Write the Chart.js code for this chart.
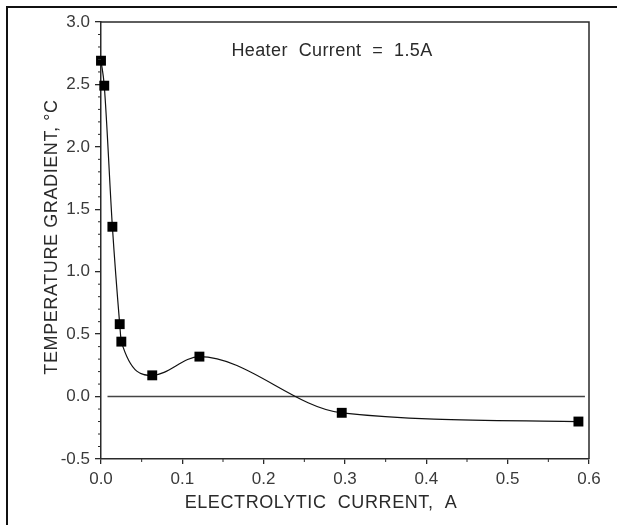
<!DOCTYPE html>
<html>
<head>
<meta charset="utf-8">
<script src="https://cdn.jsdelivr.net/npm/chart.js@4.4.1/dist/chart.umd.min.js"></script>
<style>
    html, body { margin: 0; padding: 0; background: #fff; }
    #wrap { position: relative; width: 617px; height: 525px; }
</style>
</head>
<body>
<div id="wrap"><canvas id="gradientChart" width="617" height="525"></canvas></div>
<script>
// Measured points: electrolytic current (A) vs temperature gradient (°C)
const current = [0.0, 0.004, 0.014, 0.023, 0.025, 0.063, 0.121, 0.296, 0.587];
const gradient = [2.69, 2.49, 1.36, 0.58, 0.44, 0.17, 0.32, -0.13, -0.20];

// Reference line at zero gradient
const zeroLineX = [0.008, 0.595];
const zeroLineY = [0, 0];

// Axis ticks
const xTicks = [0.0, 0.1, 0.2, 0.3, 0.4, 0.5, 0.6];
const yTicks = [-0.5, 0.0, 0.5, 1.0, 1.5, 2.0, 2.5, 3.0];

const ink = '#2a2a2a';
const fontFamily = "'Liberation Sans', Arial, sans-serif";

// Frame, plot box, minor ticks and the text labels
const decorations = {
    id: 'decorations',
    afterDraw(chart) {
        const ctx = chart.ctx;
        const area = chart.chartArea;
        const xs = chart.scales.x;
        const ys = chart.scales.y;

        ctx.save();
        // outer frame (left + top)
        ctx.strokeStyle = '#111';
        ctx.lineWidth = 2;
        ctx.beginPath();
        ctx.moveTo(7, 525);
        ctx.lineTo(7, 7);
        ctx.lineTo(617, 7);
        ctx.stroke();

        // top and right edges of the plot box
        ctx.strokeStyle = ink;
        ctx.lineWidth = 1.5;
        ctx.beginPath();
        ctx.moveTo(area.left, area.top);
        ctx.lineTo(area.right, area.top);
        ctx.lineTo(area.right, area.bottom);
        ctx.stroke();

        // minor ticks
        ctx.lineWidth = 1;
        ctx.beginPath();
        for (let i = 1; i < 12; i += 2) {
            const px = xs.getPixelForValue(i * 0.05);
            ctx.moveTo(px, area.bottom);
            ctx.lineTo(px, area.bottom + 3);
        }
        for (let i = -5; i <= 30; i++) {
            if (i % 5 === 0) continue;
            const py = ys.getPixelForValue(i / 10);
            ctx.moveTo(area.left, py);
            ctx.lineTo(area.left - 3, py);
        }
        ctx.stroke();

        ctx.fillStyle = ink;
        ctx.textAlign = 'center';
        ctx.textBaseline = 'middle';

        // annotation
        ctx.font = '18px ' + fontFamily;
        ctx.letterSpacing = '0.4px';
        ctx.fillText('Heater  Current  =  1.5A', 332, 51);

        // axis titles
        ctx.font = '18px ' + fontFamily;
        ctx.letterSpacing = '0.6px';
        ctx.fillText('ELECTROLYTIC  CURRENT,  A', 321, 503);

        ctx.translate(52, 237);
        ctx.rotate(-Math.PI / 2);
        ctx.fillText('TEMPERATURE GRADIENT, °C', 0, 0);
        ctx.restore();
    }
};

const ctx = document.getElementById('gradientChart').getContext('2d');
new Chart(ctx, {
    type: 'line',
    data: {
        datasets: [{
            data: current.map((x, i) => ({ x: x, y: gradient[i] })),
            borderColor: '#111',
            borderWidth: 1.2,
            backgroundColor: '#000',
            pointStyle: 'rect',
            pointRadius: 7,
            pointBorderWidth: 0,
            cubicInterpolationMode: 'monotone',
            clip: false,
            fill: false
        }, {
            data: zeroLineX.map((x, i) => ({ x: x, y: zeroLineY[i] })),
            borderColor: '#444',
            borderWidth: 1.5,
            pointRadius: 0,
            fill: false
        }]
    },
    options: {
        responsive: false,
        animation: false,
        layout: { padding: { top: 22, right: 28, left: 0, bottom: 0 } },
        plugins: {
            legend: { display: false },
            tooltip: { enabled: false }
        },
        scales: {
            x: {
                type: 'linear',
                min: 0,
                max: 0.6,
                afterFit: (scale) => { scale.height = 66; },
                afterBuildTicks: (scale) => { scale.ticks = xTicks.map(v => ({ value: v })); },
                ticks: {
                    callback: (v) => v.toFixed(1),
                    color: '#3a3a3a',
                    font: { family: fontFamily, size: 17 },
                    padding: 5,
                    maxRotation: 0
                },
                grid: { drawOnChartArea: false, drawTicks: true, tickLength: 5, color: ink, lineWidth: 1.3 },
                border: { display: true, color: ink, width: 1.5 }
            },
            y: {
                type: 'linear',
                min: -0.5,
                max: 3.0,
                afterFit: (scale) => { scale.width = 101; },
                afterBuildTicks: (scale) => { scale.ticks = yTicks.map(v => ({ value: v })); },
                ticks: {
                    callback: (v) => v.toFixed(1),
                    color: '#3a3a3a',
                    font: { family: fontFamily, size: 17 },
                    padding: 5
                },
                grid: { drawOnChartArea: false, drawTicks: true, tickLength: 6, color: ink, lineWidth: 1.3 },
                border: { display: true, color: ink, width: 1.5 }
            }
        }
    },
    plugins: [decorations]
});
</script>
</body>
</html>
